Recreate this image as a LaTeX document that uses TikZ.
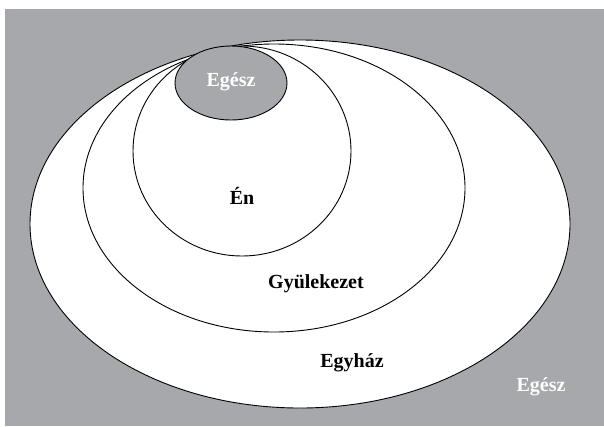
\documentclass[tikz,border=0pt]{standalone}
\usepackage{fontspec}
\setmainfont{Liberation Serif}
\usepackage{xcolor}
\definecolor{bggray}{RGB}{167,168,172}

\begin{document}
\begin{tikzpicture}[
    x=1pt, y=-1pt,
    line width=0.9pt,
    ring/.style={draw=black, fill=white},
    lbl/.style={font=\fontsize{20}{24}\selectfont\bfseries, inner sep=0pt}
]

\useasboundingbox (0,0) rectangle (604,426);

% Background
\fill[bggray] (5,9) rectangle (604,426);

% Egyhaz
\draw[ring] (300,224) ellipse [x radius=270, y radius=184];

% Gyulekezet
\draw[ring] (274,188) ellipse [x radius=191, y radius=144];

% En
\draw[ring] (242,151) ellipse [x radius=109, y radius=105];

% Egesz (inner)
\draw[fill=bggray] (231,83) ellipse [x radius=56, y radius=37];

% Labels
\node[lbl, white] (egeszin) at (231,82) {Egész};
\node[lbl] (en) at (242,196) {Én};
\node[lbl] (gyul) at (316,284) {Gyülekezet};
\node[lbl] (egyhaz) at (352,363) {Egyház};
\node[lbl, white] (egeszout) at (541,387) {Egész};
\end{tikzpicture}
\end{document}
